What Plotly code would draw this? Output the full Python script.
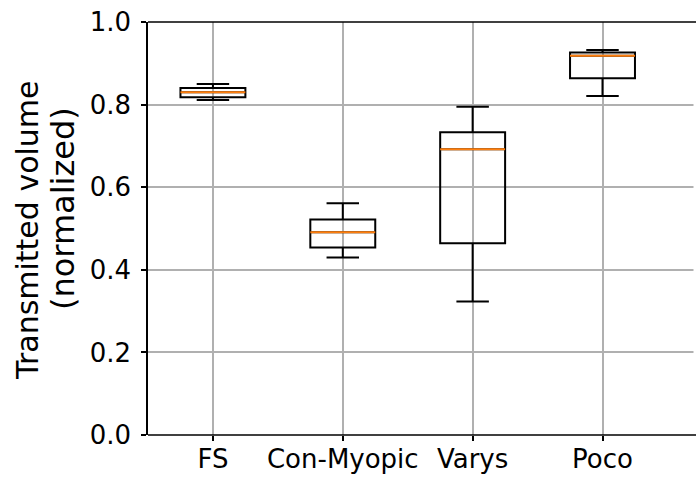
import plotly.graph_objects as go

categories = ["FS", "Con-Myopic", "Varys", "Poco"]
lower_whisker = [0.811, 0.430, 0.323, 0.821]
q1_values = [0.818, 0.454, 0.464, 0.864]
median_values = [0.830, 0.491, 0.692, 0.918]
q3_values = [0.840, 0.522, 0.733, 0.926]
upper_whisker = [0.850, 0.561, 0.795, 0.932]
y_ticks = [0.0, 0.2, 0.4, 0.6, 0.8, 1.0]
y_title_lines = ["Transmitted volume", "(normalized)"]

positions = list(range(1, len(categories) + 1))
box_width = 0.5

W, H = 696, 477
L, R, T, B = 148, 0, 22, 42
pw, ph = W - L - R, H - T - B


def px_to_paper(px, py):
    return (px - L) / pw, (H - B - py) / ph


fig = go.Figure()
fig.add_trace(go.Box(
    x=positions,
    q1=q1_values,
    median=median_values,
    q3=q3_values,
    lowerfence=lower_whisker,
    upperfence=upper_whisker,
    width=box_width,
    whiskerwidth=0.5,
    fillcolor="rgba(0,0,0,0)",
    line=dict(color="black", width=2),
    boxpoints=False,
    showlegend=False,
    hoverinfo="skip",
))
for p, m in zip(positions, median_values):
    fig.add_trace(go.Scatter(
        x=[p - box_width / 2, p + box_width / 2], y=[m, m],
        mode="lines", line=dict(color="#ff7f0e", width=2),
        showlegend=False, hoverinfo="skip",
    ))

font = dict(family="DejaVu Sans", size=26, color="black")
title_sizes = [30, 32]

annotations = []
for text, size, (cx, cy) in zip(y_title_lines, title_sizes, [(28, 230), (63, 209)]):
    ax, ay = px_to_paper(cx, cy)
    annotations.append(dict(
        text=text, xref="paper", yref="paper", x=ax, y=ay,
        xanchor="center", yanchor="middle", textangle=-90,
        showarrow=False, font=dict(family="DejaVu Sans", size=size, color="black"),
    ))

fig.update_layout(
    width=W, height=H,
    margin=dict(l=L, r=R, t=T, b=B),
    plot_bgcolor="white", paper_bgcolor="white",
    font=font,
    xaxis=dict(
        range=[0.5, 4.72], automargin=False,
        tickvals=positions, ticktext=categories,
        showgrid=True, gridcolor="#b0b0b0", gridwidth=1.5,
        showline=False,
        ticks="outside", ticklen=5, tickcolor="black", tickwidth=1.5,
        zeroline=False, tickfont=font, ticklabelstandoff=-4,
    ),
    yaxis=dict(
        range=[0, 1.0], automargin=False,
        tickvals=y_ticks, ticktext=[f"{v:.1f}" for v in y_ticks],
        showgrid=True, gridcolor="#b0b0b0", gridwidth=1.5,
        showline=True, linecolor="black", linewidth=1.5,
        ticks="outside", ticklen=5, tickcolor="black", tickwidth=1.5,
        zeroline=False, tickfont=font, ticklabelstandoff=5,
    ),
    shapes=[
        dict(type="rect", xref="paper", yref="paper", x0=1 - 2.5 / pw, x1=1.0, y0=0, y1=1,
             fillcolor="white", line=dict(width=0), layer="above"),
        dict(type="line", xref="paper", yref="paper", x0=0, x1=1, y0=1, y1=1,
             line=dict(color="black", width=1.5), layer="above"),
        dict(type="line", xref="paper", yref="paper", x0=0, x1=1, y0=0, y1=0,
             line=dict(color="black", width=1.5), layer="above"),
    ],
    annotations=annotations,
)
fig.write_html("out.html")
